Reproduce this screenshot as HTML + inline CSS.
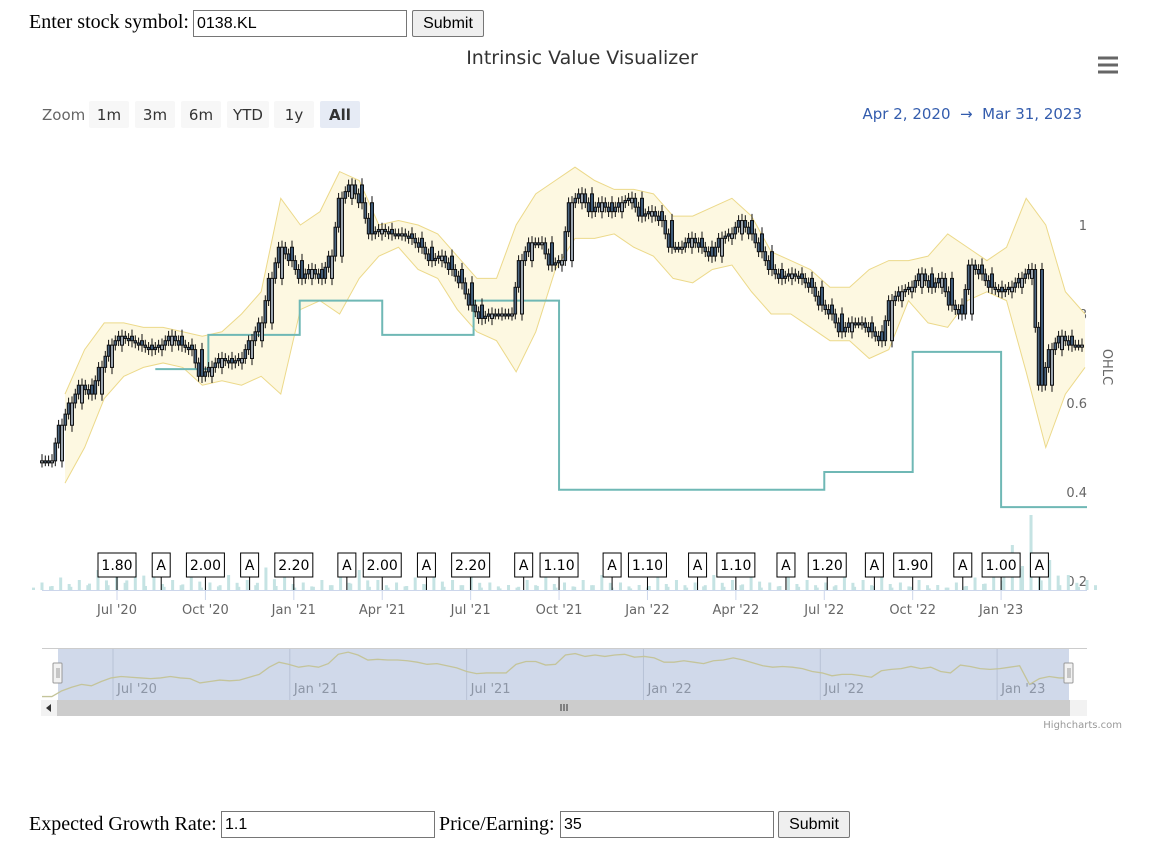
<!DOCTYPE html>
<html><head><meta charset="utf-8"><style>
body{margin:0;background:#fff;width:1172px;height:867px;overflow:hidden;font-family:"Liberation Serif",serif;position:relative}
.f{position:absolute;font-size:20px;color:#000}
input{position:absolute;font:16px "Liberation Sans",sans-serif;border:1px solid #767676;padding:0 3px;box-sizing:border-box;height:27px}
button{position:absolute;font:16px "Liberation Sans",sans-serif;background:#efefef;border:1px solid #767676;border-radius:2px;height:27px;padding:0 6px}
svg text{font-family:"DejaVu Sans",sans-serif}
</style></head><body>
<div class="f" style="left:29px;top:11px">Enter stock symbol:</div>
<input style="left:193px;top:10px;width:214px" value="0138.KL">
<button style="left:412px;top:10px;width:72px">Submit</button>

<svg id="c" width="1172" height="800" style="position:absolute;left:0;top:0">
<text x="582" y="64" text-anchor="middle" font-size="19" fill="#333">Intrinsic Value Visualizer</text>
<g stroke="#666" stroke-width="3"><line x1="1098" y1="58" x2="1118" y2="58"/><line x1="1098" y1="65" x2="1118" y2="65"/><line x1="1098" y1="72" x2="1118" y2="72"/></g>
<text x="42" y="120" font-size="15" fill="#666">Zoom</text>
<g id="rs"></g>
<text x="1082" y="119" text-anchor="end" font-size="15" fill="#335cad">Apr 2, 2020 &#160;→ &#160;Mar 31, 2023</text>
<g id="plot"></g>
</svg>

<div class="f" style="left:29px;top:813px">Expected Growth Rate:</div>
<input style="left:221px;top:811px;width:214px" value="1.1">
<div class="f" style="left:439px;top:813px">Price/Earning:</div>
<input style="left:560px;top:811px;width:214px" value="35">
<button style="left:778px;top:811px;width:72px">Submit</button>

<script>
// ---- data ----
const closes=[0.47,0.47,0.55,0.60,0.64,0.62,0.68,0.73,0.75,0.74,0.73,0.72,0.73,0.75,0.73,0.72,0.66,0.68,0.70,0.69,0.70,0.74,0.78,0.88,0.95,0.92,0.88,0.90,0.88,0.93,1.06,1.09,1.05,0.98,0.99,0.98,0.98,0.97,0.95,0.92,0.93,0.90,0.87,0.82,0.79,0.80,0.80,0.80,0.92,0.96,0.96,0.91,0.92,1.05,1.07,1.03,1.05,1.03,1.05,1.06,1.02,1.03,1.01,0.95,0.95,0.97,0.95,0.93,0.97,0.98,1.01,0.98,0.94,0.90,0.88,0.89,0.88,0.86,0.82,0.80,0.76,0.78,0.78,0.76,0.74,0.83,0.85,0.86,0.89,0.86,0.88,0.82,0.80,0.91,0.89,0.86,0.85,0.86,0.88,0.90,0.64,0.72,0.75,0.73,0.73];
const bandUpper=[0.62,0.72,0.78,0.78,0.77,0.77,0.76,0.75,0.76,0.80,0.85,1.06,1.00,1.03,1.12,1.10,1.00,1.01,1.00,0.98,0.93,0.88,0.88,1.00,1.07,1.10,1.13,1.10,1.08,1.08,1.07,1.02,1.02,1.04,1.06,1.02,0.94,0.92,0.90,0.86,0.86,0.90,0.92,0.92,0.93,0.98,0.95,0.92,0.95,1.06,1.00,0.85,0.80];
const bandLower=[0.42,0.50,0.61,0.66,0.68,0.69,0.68,0.64,0.65,0.64,0.66,0.62,0.81,0.83,0.80,0.88,0.93,0.95,0.90,0.88,0.81,0.76,0.74,0.67,0.76,0.90,0.97,0.97,0.98,0.95,0.93,0.88,0.87,0.90,0.91,0.85,0.80,0.80,0.77,0.74,0.74,0.70,0.72,0.83,0.78,0.77,0.83,0.85,0.83,0.67,0.50,0.62,0.68];
const stepMonths=[4.3,6.1,9.2,12.0,15.1,18.0,27.0,30.0,33.0,35.9];
const stepValues=[0.676,0.753,0.83,0.753,0.83,0.405,0.445,0.715,0.366,0.366];
const yTicks=[0.2,0.4,0.6,0.8,1];
const xTickLabels=["Jul '20","Oct '20","Jan '21","Apr '21","Jul '21","Oct '21","Jan '22","Apr '22","Jul '22","Oct '22","Jan '23"];
const xTickMonths=[3,6,9,12,15,18,21,24,27,30,33];
const flagLabels=["1.80","A","2.00","A","2.20","A","2.00","A","2.20","A","1.10","A","1.10","A","1.10","A","1.20","A","1.90","A","1.00","A"];
const flagMonths=[3.0,4.5,6.0,7.5,9.0,10.8,12.0,13.5,15.0,16.8,18.0,19.8,21.0,22.7,24.0,25.7,27.1,28.7,30.0,31.7,33.0,34.3];
const volumes=[3,5,4,8,6,12,5,4,7,3,6,4,9,5,3,4,6,8,4,3,5,7,4,6,3,2,4,5,3,4,6,3,2,5,4,3,6,4,7,3,5,4,3,6,4,5,3,4,2,3,5,8,18,30,12,6,4];
const navLabels=["Jul '20","Jan '21","Jul '21","Jan '22","Jul '22","Jan '23"];
const navMonths=[3,9,15,21,27,33];
const rangeBtns=["1m","3m","6m","YTD","1y","All"];

// ---- axes ----
const NS="http://www.w3.org/2000/svg";
const X0=42,X1=1087;
function xi(i){return X0+i*(X1-5-X0)/(closes.length-1);}
function xb(i){return 65+i*(1085-65)/(bandUpper.length-1);}
function xm(m){return 117+(m-3)*29.47;}
function yv(v){return 225+(1-v)*445;}
const navMin=0.45,navMax=1.12;
function yn(v){return 698-(v-navMin)/(navMax-navMin)*48;}
function mk(t,a,p){const e=document.createElementNS(NS,t);for(const k in a)e.setAttribute(k,a[k]);(p||plot).appendChild(e);return e;}
const plot=document.getElementById('plot'), rs=document.getElementById('rs');

// range selector
const rx=[89,135,181,227,274,320], rw=[40,40,40,42,40,40];
rangeBtns.forEach((b,i)=>{
  const g=mk('g',{},rs);
  
  
  mk('rect',{x:rx[i],y:101,width:rw[i],height:27,rx:2,fill:i==5?'#e6ebf5':'#f7f7f7'},g);
  const t=mk('text',{x:rx[i]+rw[i]/2,y:120,'text-anchor':'middle','font-size':15,fill:'#333','font-weight':i==5?'bold':'normal'},g);t.textContent=b;
});

// y labels
yTicks.forEach(v=>{const t=mk('text',{x:1087,y:yv(v)+5,'text-anchor':'end','font-size':13,fill:'#666'});t.textContent=v;

});
const oh=mk('text',{x:1103,y:367,'text-anchor':'middle','font-size':13,fill:'#666',transform:'rotate(90 1103 367)'});oh.textContent='OHLC';



// volume
const vg=mk('g',{});


volumes.forEach((v,i)=>{const x=X0+i*(X1-X0)/(volumes.length-1);
  mk('rect',{x:x-1.5,y:590-v*2.5,width:3,height:v*2.5,fill:'#c5e3e3'},vg);
  mk('rect',{x:x+7,y:590-v*1.2,width:3,height:v*1.2,fill:'#c5e3e3'},vg);
  mk('rect',{x:x-10,y:590-v*0.8,width:3,height:v*0.8,fill:'#c5e3e3'},vg);});
mk('line',{x1:X0,y1:590.5,x2:X1,y2:590.5,stroke:'#ccd6eb'});

// bands
let bp='M'+bandUpper.map((v,i)=>xb(i)+','+yv(v)).join('L')+'L'+bandLower.map((v,i)=>xb(i)+','+yv(v)).reverse().join('L')+'Z';
const band=mk('path',{d:bp,fill:'#fdf8e1',stroke:'none'});


mk('path',{d:'M'+bandUpper.map((v,i)=>xb(i)+','+yv(v)).join('L'),fill:'none',stroke:'#ecd98a','stroke-width':1});
mk('path',{d:'M'+bandLower.map((v,i)=>xb(i)+','+yv(v)).join('L'),fill:'none',stroke:'#ecd98a','stroke-width':1});

// step line
let sp='M'+xm(stepMonths[0])+','+yv(stepValues[0]);
for(let i=1;i<stepMonths.length;i++){sp+='H'+xm(stepMonths[i])+'V'+yv(stepValues[i]);}
sp+='H'+X1;
const st=mk('path',{d:sp,fill:'none',stroke:'#6fb8b5','stroke-width':2});



// candles
const cg=mk('g',{});


closes.forEach((c,i)=>{
  const o=i?closes[i-1]:c, x=xi(i);
  const hi=Math.max(o,c)+0.015, lo=Math.min(o,c)-0.015;
  mk('line',{x1:x,y1:yv(hi),x2:x,y2:yv(lo),stroke:'#111','stroke-width':1},cg);
  const t=yv(Math.max(o,c)), h=Math.max(2,Math.abs(yv(o)-yv(c)));
  mk('rect',{x:x-1.5,y:t,width:3,height:h,fill:c>=o?'#9aa5b1':'#3d5a78',stroke:'#111','stroke-width':1},cg);
  if(i<closes.length-1){const n=closes[i+1];
    [3.3,6.6].forEach((d,k)=>{const a=k?((c+n)/2):c,b=k?n:((c+n)/2);const xx=x+d;
      mk('line',{x1:xx,y1:yv(Math.max(a,b)+0.012),x2:xx,y2:yv(Math.min(a,b)-0.012),stroke:'#111','stroke-width':1},cg);
      mk('rect',{x:xx-1.3,y:yv(Math.max(a,b)),width:2.6,height:Math.max(2,Math.abs(yv(a)-yv(b))),fill:'#4a6580',stroke:'#111','stroke-width':1},cg);});}
});

// x ticks
xTickLabels.forEach((l,i)=>{const x=xm(xTickMonths[i]);mk('line',{x1:x,y1:591,x2:x,y2:600,stroke:'#ccd6eb'});
const t=mk('text',{x:x,y:614,'text-anchor':'middle','font-size':13,fill:'#666'});t.textContent=l;

});

// flags
flagLabels.forEach((l,i)=>{const x=xm(flagMonths[i]);const w=l=='A'?18:38;
  const g=mk('g',{});
  
  
  mk('line',{x1:x,y1:577,x2:x,y2:590,stroke:'#000'},g);
  const bx=l=='A'?x-9:x-19;
  mk('rect',{x:bx,y:553,width:w,height:24,fill:'#fff',stroke:'#000'},g);
  const t=mk('text',{x:bx+w/2,y:570,'text-anchor':'middle','font-size':14,fill:'#000'},g);t.textContent=l;});

// navigator
const ng=mk('g',{});


mk('line',{x1:X0,y1:648.5,x2:X1,y2:648.5,stroke:'#ccc'},ng);
mk('rect',{x:58,y:649,width:1011,height:51,fill:'#d0d9ea'},ng);
navMonths.forEach((m,i)=>{const x=xm(m)-4;mk('line',{x1:x,y1:649,x2:x,y2:700,stroke:'#b8c2d6'},ng);
const t=mk('text',{x:x+4,y:693,'font-size':13,fill:'#8d96a6'},ng);t.textContent=navLabels[i];});
mk('path',{d:'M'+closes.map((v,i)=>(X0+i*(1069-X0)/(closes.length-1))+','+yn(v)).join('L'),fill:'none',stroke:'#c4c49a','stroke-width':1.3},ng);
[58,1069].forEach(x=>{mk('rect',{x:x-5,y:663,width:9,height:20,fill:'#f2f2f2',stroke:'#999',rx:1},ng);mk('line',{x1:x-1,y1:668,x2:x-1,y2:678,stroke:'#999'},ng);mk('line',{x1:x+1,y1:668,x2:x+1,y2:678,stroke:'#999'},ng);});
mk('rect',{x:41,y:700,width:1046,height:16,fill:'#f2f2f2'},ng);
mk('rect',{x:57,y:700,width:1013,height:16,fill:'#cccccc'},ng);
mk('path',{d:'M51,704L46,708L51,712Z',fill:'#333'},ng);
[561,564,567].forEach(x=>mk('line',{x1:x,y1:704,x2:x,y2:711,stroke:'#333'},ng));
const hc=mk('text',{x:1122,y:728,'text-anchor':'end','font-size':10,fill:'#999'});hc.textContent='Highcharts.com';


</script>
</body></html>
